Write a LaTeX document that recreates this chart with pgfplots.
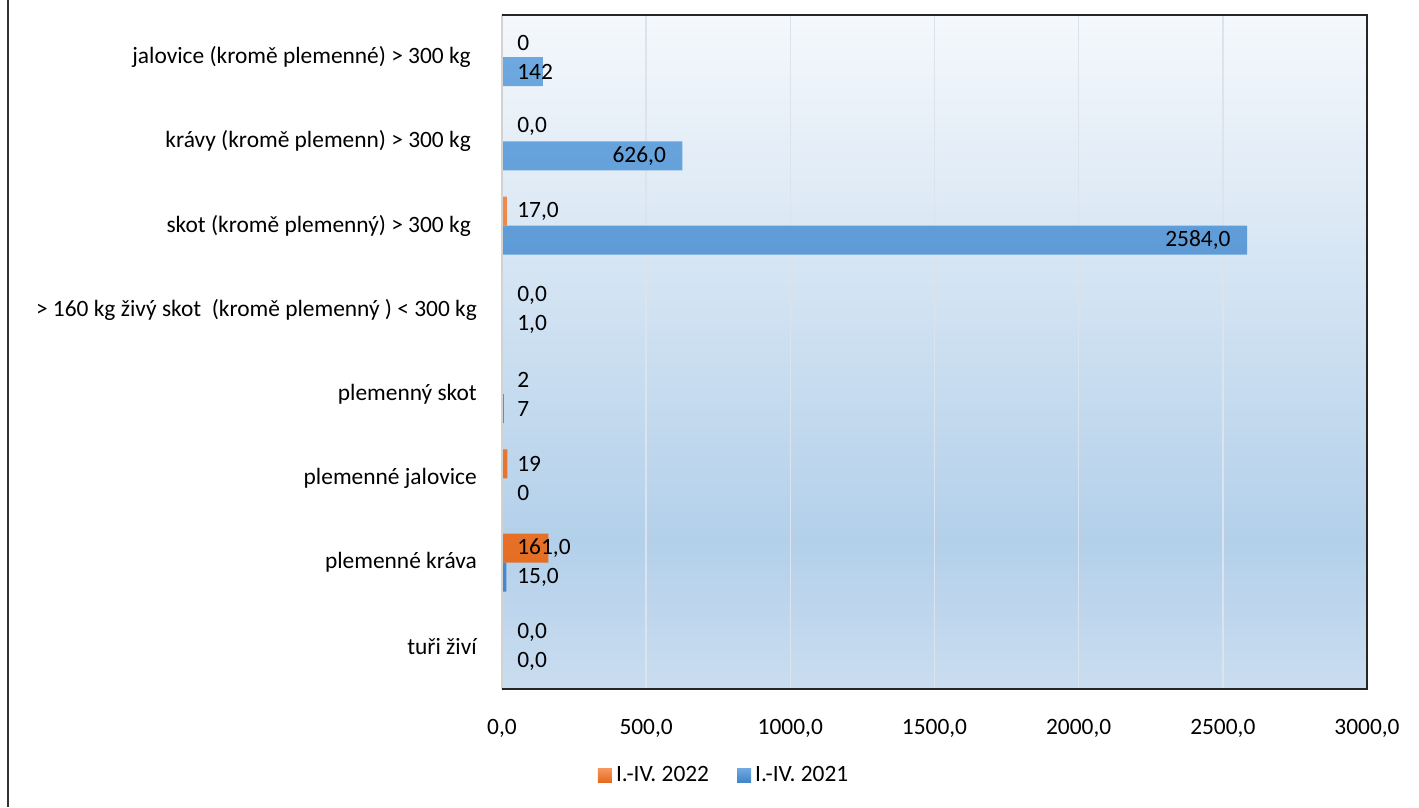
\documentclass[border=0pt]{standalone}
\usepackage{pgfplots}
\pgfplotsset{compat=1.18}
\usepackage{pgfplotstable}
\usepackage{fontspec}
\setmainfont{Carlito}

\definecolor{bgtop}{HTML}{F5F8FC}
\definecolor{bgmid}{HTML}{B3D0EA}
\definecolor{bgbot}{HTML}{CADDF0}
\definecolor{orgtop}{HTML}{F4955A}
\definecolor{orgbot}{HTML}{E3681C}
\definecolor{blutop}{HTML}{6DA8DF}
\definecolor{blubot}{HTML}{3F82C6}
\definecolor{gridc}{HTML}{DCE3EB}

% plot background: light at the top, darkest at about 78% down
\pgfdeclareverticalshading{plotbg}{100bp}{color(0bp)=(bgbot); color(25bp)=(bgbot);
  color(36bp)=(bgmid); color(75bp)=(bgtop); color(100bp)=(bgtop)}

% y: 0 = tuři živí ... 7 = jalovice
\pgfplotstableread{
y v lab
0 0 {0,0}
1 161 {161,0}
2 19 19
3 2 2
4 0 {0,0}
5 17 {17,0}
6 0 {0,0}
7 0 0
}\rokdva

\pgfplotstableread{
y v lab
0 0 {0,0}
1 15 {15,0}
2 0 0
3 7 7
4 1 {1,0}
5 2584 {2584,0}
6 626 {626,0}
7 142 142
}\rokjedna

\begin{document}
\fontsize{11.7}{14}\selectfont
\begin{tikzpicture}
\begin{axis}[
  scale only axis, clip=false,
  width=432.5pt, height=337pt,
  xbar, bar width=14.5pt,
  xmin=0, xmax=3000,
  ymin=-0.5, ymax=7.5,
  xtick={0,500,...,3000},
  ytick={0,...,7},
  yticklabels={tuři živí, plemenné kráva, plemenné jalovice, plemenný skot,
    > 160 kg živý skot\ \ (kromě plemenný ) < 300 kg,
    skot (kromě plemenný) > 300 kg\hspace*{3pt},
    krávy (kromě plemenn) > 300 kg\hspace*{3pt},
    jalovice (kromě plemenné) > 300 kg\hspace*{3pt}},
  major tick length=0pt,
  xmajorgrids,
  grid style={gridc, line width=0.75pt},
  axis line style={draw=none},
  axis background/.style={shading=plotbg},
  yticklabel style={xshift=-8.5pt},
  xticklabel style={yshift=-11pt},
  /pgf/number format/.cd, fixed, fixed zerofill, precision=1, use comma,
    1000 sep={}, assume math mode=true,
  /pgfplots/.cd,
  legend style={at={(0.258,-0.129)}, anchor=center, draw=none, fill=none,
    legend columns=2, /tikz/every even column/.append style={column sep=12pt}},
  legend image code/.code={\fill[#1] (0pt,-3.5pt) rectangle (7pt,3.5pt);},
]
\addplot[draw=none, top color=orgtop, bottom color=orgbot, bar shift=7.25pt,
  point meta=explicit symbolic, nodes near coords,
  visualization depends on={rawx \as \rawv},
  every node near coord/.append style={inner sep=0pt, anchor=west,
    xshift={7.5pt-\rawv*0.144167pt}, text=black}]
  table[x=v, y=y, meta=lab] {\rokdva};
\addlegendentry{I.-IV. 2022}
\addplot[draw=none, top color=blutop, bottom color=blubot, bar shift=-7.25pt,
  point meta=explicit symbolic, nodes near coords,
  visualization depends on={rawx \as \rawv},
  every node near coord/.append style={inner sep=0pt, anchor=west,
    xshift={7.5pt-\rawv*0.144167pt}, text=black},
  coordinate style/.condition={x>400}{xshift={\rawv*0.144167pt-16pt-width("\pgfplotspointmeta")}}]
  table[x=v, y=y, meta=lab] {\rokjedna};
\addlegendentry{I.-IV. 2021}

% plot frame: light on the left, dark elsewhere
\draw[gray!35, line width=0.75pt] (rel axis cs:0,0) -- (rel axis cs:0,1);
\draw[black!85, line width=1pt] (rel axis cs:0,1) -- (rel axis cs:1,1)
  -- (rel axis cs:1,0) -- (rel axis cs:0,0);
\coordinate (lt) at (rel axis cs:-0.5711,1.0223);
\coordinate (lb) at (rel axis cs:-0.5711,-0.1751);
\coordinate (bl) at (rel axis cs:-0.5803,-0.1751);
\coordinate (tr) at (rel axis cs:1.0601,1.0223);
\end{axis}
% chart area: its left edge only
\draw[black!80, line width=1pt] (lt) -- (lb);
\pgfresetboundingbox
\path[use as bounding box] (bl) rectangle (tr);
\end{tikzpicture}
\end{document}
